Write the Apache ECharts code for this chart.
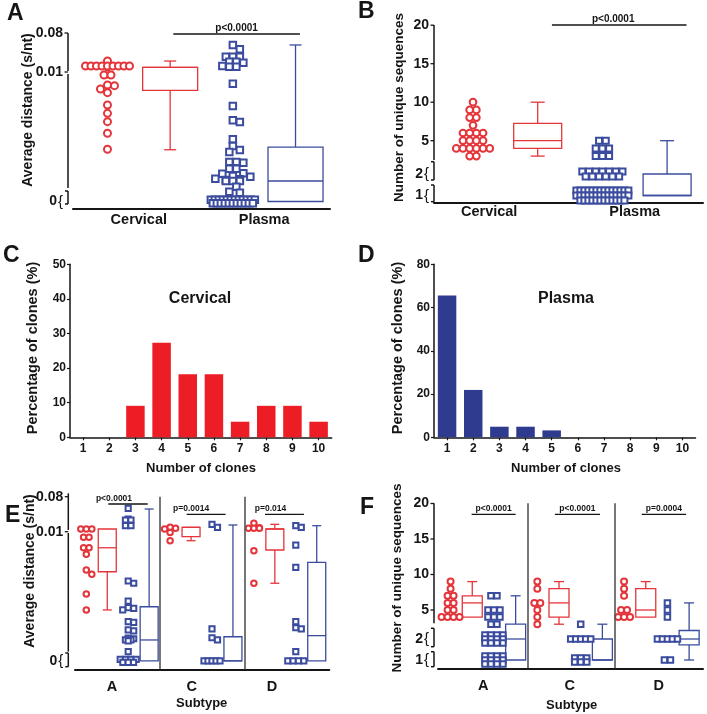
<!DOCTYPE html>
<html><head><meta charset="utf-8">
<script src="https://cdn.jsdelivr.net/npm/echarts@6/dist/echarts.min.js"></script>
<style>html,body{margin:0;padding:0;background:#fff}#c{width:707px;height:714px}</style>
</head><body><div id="c"></div>
<script>
// ================= DATA =================
// Panel A: average distance (s/nt)
const aCervical = [0.0297, 0.0208, 0.0208, 0.0208, 0.0208, 0.0208, 0.0208, 0.0208, 0.0208, 0.0208,
  0.00984, 0.00976, 0.00976, 0.00894, 0.00889, 0.00862, 0.00832, 0.00732, 0.00664, 0.00596, 0.00502, 0.00372];
const aPlasma = [0.0585, 0.0507, 0.0375, 0.0375, 0.0375, 0.0285, 0.0285, 0.0267, 0.0208, 0.0195, 0.0195,
  0.00905, 0.00724, 0.00607, 0.00593, 0.00453, 0.00398, 0.00366, 0.0035, 0.00268, 0.00268, 0.00263,
  0.00217, 0.00214, 0.00214, 0.00176, 0.00173, 0.00154, 0.00149, 0.00133, 0.00128, 0.00122,
  0.00114, 0.00114, 0.00114, 0.00067, 0.00027, 0.00019,
  0, 0, 0, 0, 0, 0, 0, 0, 0, 0, 0, 0, 0, 0, 0, 0, 0, 0, 0, 0, 0, 0, 0];
const aBoxCervical = [0.00368, 0.00851, 0.0184, 0.0184, 0.0297];   // min, q1, median, q3, max
const aBoxPlasma = [0, 0, 0.00114, 0.0039, 0.0585];
const aGroups = ['Cervical', 'Plasma'];
const aYTicks = [0.08, 0.01, 0];
const aYTickText = ['0.08', '0.01', '0'];

// Panel B: number of unique sequences
const bCervical = [10, 9, 9, 8, 8, 7, 6, 6, 6, 6, 5, 5, 5, 5, 4, 4, 4, 4, 4, 4, 3, 3];
const bPlasma = [5, 5, 4, 4, 4, 3, 3, 3,
  2, 2, 2, 2, 2, 2, 2, 2, 2, 2, 2, 2, 2,
  1, 1, 1, 1, 1, 1, 1, 1, 1, 1, 1, 1, 1, 1, 1, 1, 1, 1, 1, 1,
  1, 1, 1, 1, 1, 1, 1, 1, 1, 1, 1, 1, 1, 1, 1, 1, 1, 1, 1, 1];
const bBoxCervical = [3, 4, 5, 7.26, 10];
const bBoxPlasma = [1, 1, 1, 2, 5];
const bYTicks = [20, 15, 10, 5, 2, 1];
const bYTickText = ['20', '15', '10', '5', '2', '1'];

// Panels C / D: percentage of clones
const cdCategories = ['1', '2', '3', '4', '5', '6', '7', '8', '9', '10'];
const cValues = [0, 0, 9.1, 27.3, 18.2, 18.2, 4.5, 9.1, 9.1, 4.5];
const dValues = [65.6, 21.9, 4.9, 4.9, 3.2, 0, 0, 0, 0, 0];

// Panel E: average distance by subtype
const subtypes = ['A', 'C', 'D'];
const eCervA = [0.0154, 0.0154, 0.0154, 0.00955, 0.00955, 0.0087, 0.0087, 0.00817, 0.0069, 0.00655, 0.00496, 0.00367];
const eCervC = [0.0188, 0.0168, 0.0154, 0.00994, 0.00927];
const eCervD = [0.0268, 0.018, 0.0168, 0.0168, 0.0168, 0.00846, 0.00583];
const ePlasA = [0.0568, 0.0354, 0.0334, 0.0334, 0.022, 0.022, 0.00601, 0.00583, 0.00439, 0.00385, 0.0038, 0.00367,
  0.00272, 0.00267, 0.00205, 0.00197, 0.0014, 0.00134, 0.00124, 0.00124, 0.00116, 0.00029, 0, 0, 0, 0, 0, 0, 0];
const ePlasC = [0.0248, 0.0188, 0.00213, 0.00142, 0.00124, 0, 0, 0, 0, 0];
const ePlasD = [0.022, 0.0188, 0.00892, 0.00712, 0.00272, 0.00223, 0.00213, 0.00029, 0, 0, 0, 0];
const eBoxCerv = [[0.00367, 0.00676, 0.0087, 0.0154, 0.0154], [0.00927, 0.0096, 0.0188, 0.0188, 0.0188], [0.00583, 0.00852, 0.0154, 0.0154, 0.0248]];
const eBoxPlas = [[0, 0, 0.00124, 0.00393, 0.0554], [0, 0, 0, 0.0015, 0.0234], [0, 0, 0.00159, 0.00752, 0.022]];
const ePValues = ['p<0.0001', 'p=0.0014', 'p=0.014'];

// Panel F: unique sequences by subtype
const fCervA = [9, 8, 7, 7, 6, 6, 5, 5, 4, 4, 4, 4];
const fCervC = [9, 8, 6, 6, 5, 4, 3];
const fCervD = [9, 8, 7, 5, 5, 4, 4, 4];
const fPlasA = [7, 7, 5, 5, 5, 4, 4, 4, 3, 3, 2, 2, 2, 2, 2, 2, 2, 2, 2, 2, 2, 2, 1, 1, 1, 1, 1, 1, 1, 1, 1, 1, 1, 1];
const fPlasC = [3, 2, 2, 2, 2, 2, 1, 1, 1, 1, 1, 1];
const fPlasD = [6, 5, 4, 2, 2, 2, 2, 2, 1, 1];
const fBoxCerv = [[4, 4, 6, 7, 9], [3, 4, 6, 8, 9], [4, 4, 5, 8, 9]];
const fBoxPlas = [[1, 1, 2, 3, 7], [1, 1, 1, 2, 3], [1, 1.65, 2, 2.5, 6]];
const fPValues = ['p<0.0001', 'p<0.0001', 'p=0.0004'];
const abPValue = 'p<0.0001';

// ================= STYLE / LAYOUT =================
const FONT = "'Liberation Sans', Arial, Helvetica, sans-serif";
const RED = '#e4353b', BLUE = '#3b4c9e', BAR_RED = '#ec1d25', BAR_BLUE = '#2e3b8f', INK = '#151515';

// broken-axis scales (axis units = px above the x axis line)
const fA = v => v === 0 ? 7.5 : (v <= 0.01 ? 14 + v * 12300 : 137 + (v - 0.01) * 557.14);
const fE = v => v === 0 ? 8.5 : (v <= 0.01 ? 14 + v * 12360 : 137.6 + (v - 0.01) * 500);
const fB = v => v >= 2.5 ? 62 + (v - 5) * 7.7 : (v >= 1.5 ? 28.7 + (v - 2) * 20 : 7.2 + (v - 1) * 20);
const fF = v => v >= 2.6 ? 58.3 + (v - 5) * 7.1 : (v >= 1.5 ? 29.3 + (v - 2) * 17 : 8.3 + (v - 1) * 17);

const PA = {grid: {left: 73, top: 33, width: 257, height: 176}, xmin: -0.55, xmax: 3.55, ymax: 176, yoff: 5, f: fA,
  d: 7, W: 44, dense: 0.65, rowStep: 3.4, maxRows: 2, boxW: 55, capW: 12, symC: 7, symS: 6.5,
  yTicks: aYTicks, yText: aYTickText, brace: [0, 0, 1], ySize: 14,
  ySegs: [[138, 176, 0], [21, 135, 0], [5, 18, 1]],
  xAt: [0.5, 2.5], xText: aGroups, xSize: 14.5, xMargin: 3};
const PB = {grid: {left: 434, top: 25, width: 269, height: 177.7}, xmin: -0.603, xmax: 3.555, ymax: 177.7, yoff: 0, f: fB,
  d: 6.7, W: 52, dense: 0.65, rowStep: 5, maxRows: 3, boxW: 48, capW: 14, symC: 6.7, symS: 6,
  yTicks: bYTicks, yText: bYTickText, brace: [0, 0, 0, 0, 1, 1], ySize: 14,
  ySegs: [[42.7, 177.7, 0], [22.7, 41, 1], [1, 17.7, 1]],
  xAt: [0.25, 2.5], xText: aGroups, xSize: 14.5, xMargin: 2};
const PE = {grid: {left: 75, top: 496.7, width: 254.3, height: 172.6}, xmin: -0.54, xmax: 11.6, ymax: 172.6, yoff: 6.7, f: fE,
  d: 5.5, W: 16, dense: 0.65, rowStep: 3, maxRows: 2, boxW: 18, capW: 9, symC: 5.5, symS: 5.2,
  yTicks: aYTicks, yText: aYTickText, brace: [0, 0, 1], ySize: 14,
  ySegs: [[139.3, 176, 0], [17.6, 136.3, 0], [2.6, 16.3, 1]],
  xAt: [1.23, 5.03, 8.86], xText: subtypes, xSize: 14.5, xMargin: 10, sep: [3.5, 7.55]};
const PF = {grid: {left: 438, top: 503.3, width: 265, height: 165}, xmin: -0.58, xmax: 11.64, ymax: 165, yoff: 4, f: fF,
  d: 6, W: 20, dense: 0.8, rowStep: 4, maxRows: 3, boxW: 20, capW: 10, symC: 6, symS: 5.5,
  yTicks: bYTicks, yText: bYTickText, brace: [0, 0, 0, 0, 1, 1], ySize: 14,
  ySegs: [[45, 165, 0], [21.6, 40, 1], [1.6, 16.6, 1]],
  xAt: [1.51, 5.5, 9.6], xText: subtypes, xSize: 14.5, xMargin: 10, sep: [3.55, 7.58]};

// ================= HELPERS =================
function nearest(arr, v) { let k = 0; arr.forEach((a, i) => { if (Math.abs(a - v) < Math.abs(arr[k] - v)) k = i; }); return k; }

// deterministic column-scatter (beeswarm) layout computed from the values
function swarm(vals, cx, P) {
  const pxu = P.grid.width / (P.xmax - P.xmin);
  const cnt = new Map();
  vals.forEach(v => cnt.set(v, (cnt.get(v) || 0) + 1));
  const keys = [...cnt.keys()].sort((a, b) => b - a);
  const placed = [];
  const lim = (P.d * 0.95) ** 2;
  const collide = (dx, y) => placed.some(p => (p[0] - dx) ** 2 + (p[1] - y) ** 2 < lim);
  keys.forEach(v => {
    const n = cnt.get(v), y = P.f(v);
    if (n === 1) {
      let off = 0, found = false;
      for (let k = 0; k < 60; k++) {
        const o = (k % 2 === 1 ? 1 : -1) * Math.ceil(k / 2) * P.d / 2;
        if (Math.abs(o) > P.W / 2 + 0.01) break;
        if (!collide(o, y)) { off = o; found = true; break; }
      }
      if (!found) off = 0;
      placed.push([off, y]);
    } else {
      const cap = Math.floor(P.W / (P.d * P.dense)) + 1;
      const R = Math.min(P.maxRows, Math.ceil(n / cap));
      const m = Math.ceil(n / R);
      const sp = m > 1 ? Math.min(P.d, P.W / (m - 1)) : 0;
      for (let r = 0; r < R; r++) {
        const c = r < R - 1 ? m : n - m * (R - 1);
        const yo = ((R - 1) / 2 - r) * P.rowStep;
        for (let i = 0; i < c; i++) placed.push([(i - (c - 1) / 2) * sp, y + yo]);
      }
    }
  });
  return placed.map(p => [cx + p[0] / pxu, p[1]]);
}

const grids = [], xAxes = [], yAxes = [], series = [];

function scatter(i, pts, circle, P, extra) {
  return Object.assign({type: 'scatter', xAxisIndex: i, yAxisIndex: i, data: pts, silent: true, z: 4,
    symbol: circle ? 'emptyCircle' : 'emptyRect', symbolSize: circle ? P.symC : P.symS,
    itemStyle: {color: circle ? RED : BLUE, borderColor: circle ? RED : BLUE, borderWidth: 1.1, opacity: 1}}, extra || {});
}

function boxSeries(i, P, items, color) {
  return {type: 'custom', xAxisIndex: i, yAxisIndex: i, silent: true, z: 3,
    data: items.map(([x, b]) => [x].concat(b.map(P.f))),
    renderItem: (params, api) => {
      const x = api.value(0);
      const c = k => api.coord([x, api.value(k)]);
      const p1 = c(1), cx = p1[0], yMin = p1[1];
      const yQ1 = c(2)[1], yMd = c(3)[1], yQ3 = c(4)[1], yMax = c(5)[1];
      const hw = P.boxW / 2, cw = P.capW / 2;
      const st = {stroke: color, lineWidth: 1.3, fill: 'none'};
      const L = (x1, y1, x2, y2) => ({type: 'line', shape: {x1, y1, x2, y2}, style: st});
      const ch = [{type: 'rect', shape: {x: cx - hw, y: yQ3, width: P.boxW, height: yQ1 - yQ3}, style: st},
        L(cx - hw, yMd, cx + hw, yMd)];
      if (yMax < yQ3 - 0.5) ch.push(L(cx, yQ3, cx, yMax), L(cx - cw, yMax, cx + cw, yMax));
      if (yMin > yQ1 + 0.5) ch.push(L(cx, yQ1, cx, yMin), L(cx - cw, yMin, cx + cw, yMin));
      return {type: 'group', children: ch};
    }};
}

// broken y-axis line: kind 0 = segment, 1 = bracket segment, 2 = tick mark
function axisDecor(i, P, items) {
  return {type: 'custom', xAxisIndex: i, yAxisIndex: i, silent: true, z: 5, data: items,
    renderItem: (params, api) => {
      const p0 = api.coord([P.xmin, api.value(0)]), p1 = api.coord([P.xmin, api.value(1)]);
      const x = p0[0] - P.yoff, kind = api.value(2);
      const st = {stroke: INK, lineWidth: 1.5};
      if (kind === 2) return {type: 'line', shape: {x1: x - 3.5, y1: p0[1], x2: x, y2: p0[1]}, style: {stroke: INK, lineWidth: 1.3}};
      const ch = [{type: 'line', shape: {x1: x, y1: p0[1], x2: x, y2: p1[1]}, style: st}];
      if (kind === 1) {
        ch.push({type: 'line', shape: {x1: x - 3, y1: p0[1], x2: x, y2: p0[1]}, style: st},
                {type: 'line', shape: {x1: x - 3, y1: p1[1], x2: x, y2: p1[1]}, style: st});
      }
      return {type: 'group', children: ch};
    }};
}

function annotations(i, list, size) {
  return {type: 'custom', xAxisIndex: i, yAxisIndex: i, silent: true, z: 6,
    data: list.map((a, k) => [a.x1, a.x2, a.u, a.dx, k]),
    renderItem: (params, api) => {
      const p1 = api.coord([api.value(0), api.value(2)]), p2 = api.coord([api.value(1), api.value(2)]);
      const a = list[api.value(4)];
      return {type: 'group', children: [
        {type: 'line', shape: {x1: p1[0], y1: p1[1], x2: p2[0], y2: p2[1]}, style: {stroke: INK, lineWidth: 1.3}},
        {type: 'text', x: (p1[0] + p2[0]) / 2 + api.value(3), y: p1[1] - 1,
          style: {text: a.text, fill: INK, font: 'bold ' + size + 'px ' + FONT, textAlign: 'center', textVerticalAlign: 'bottom'}}
      ]};
    }};
}

function dotPanel(P) {
  const i = grids.length;
  grids.push(Object.assign({containLabel: false}, P.grid));
  xAxes.push({gridIndex: i, type: 'value', min: P.xmin, max: P.xmax,
    axisLine: {show: true, onZero: false, lineStyle: {color: INK, width: 2}}, axisTick: {show: false}, splitLine: {show: false},
    axisLabel: {customValues: P.xAt, margin: P.xMargin, color: INK, fontFamily: FONT, fontWeight: 'bold', fontSize: P.xSize,
      formatter: v => P.xText[nearest(P.xAt, v)]}});
  const tickU = P.yTicks.map(P.f);
  yAxes.push({gridIndex: i, type: 'value', min: 0, max: P.ymax, offset: P.yoff,
    axisLine: {show: false}, splitLine: {show: false}, axisTick: {show: false},
    axisLabel: {customValues: tickU, margin: 5, color: INK, fontFamily: FONT, fontWeight: 'bold', fontSize: P.ySize,
      formatter: v => { const k = nearest(tickU, v); return P.brace[k] ? '{n|' + P.yText[k] + '}{k|{}' : P.yText[k]; },
      rich: {n: {fontFamily: FONT, fontWeight: 'bold', fontSize: P.ySize, color: INK},
             k: {fontFamily: FONT, fontWeight: 'normal', fontSize: P.ySize + 1, color: INK, padding: [0, 0, 0, 1]}}}});
  const ticks = tickU.filter((u, k) => !P.brace[k]).map(u => [u, u, 2]);
  series.push(axisDecor(i, P, P.ySegs.concat(ticks)));
  return i;
}

function barPanel(grid, vals, color, ymax, step) {
  const i = grids.length;
  grids.push(Object.assign({containLabel: false}, grid));
  xAxes.push({gridIndex: i, type: 'category', data: cdCategories, boundaryGap: true,
    axisLine: {show: true, lineStyle: {color: INK, width: 1.5}},
    axisTick: {show: true, alignWithLabel: true, length: 3, lineStyle: {color: INK, width: 1.2}},
    axisLabel: {margin: 5, color: INK, fontFamily: FONT, fontWeight: 'bold', fontSize: 12}, splitLine: {show: false}});
  yAxes.push({gridIndex: i, type: 'value', min: 0, max: ymax, interval: step,
    axisLine: {show: true, lineStyle: {color: INK, width: 1.5}},
    axisTick: {show: true, length: 3, lineStyle: {color: INK, width: 1.2}},
    axisLabel: {margin: 4, color: INK, fontFamily: FONT, fontWeight: 'bold', fontSize: 12}, splitLine: {show: false}});
  series.push({type: 'bar', xAxisIndex: i, yAxisIndex: i, data: vals, barWidth: 18.5, silent: true,
    itemStyle: {color: color}});
  return i;
}

// ---------- Panel A ----------
let g = dotPanel(PA);
series.push(scatter(g, swarm(aCervical, 0, PA), true, PA));
series.push(scatter(g, swarm(aPlasma, 2, PA), false, PA));
series.push(boxSeries(g, PA, [[1, aBoxCervical]], RED));
series.push(boxSeries(g, PA, [[3, aBoxPlasma]], BLUE));
series.push(annotations(g, [{x1: 1.05, x2: 3.07, u: 175, dx: 0, text: abPValue}], 10));

// ---------- Panel B ----------
g = dotPanel(PB);
series.push(scatter(g, swarm(bCervical, 0, PB), true, PB));
series.push(scatter(g, swarm(bPlasma, 2, PB), false, PB));
series.push(boxSeries(g, PB, [[1, bBoxCervical]], RED));
series.push(boxSeries(g, PB, [[3, bBoxPlasma]], BLUE));
series.push(annotations(g, [{x1: 1.22, x2: 3.3, u: 177.7, dx: -6, text: abPValue}], 10));

// ---------- Panels C, D ----------
barPanel({left: 70, top: 264.3, width: 261.7, height: 173}, cValues, BAR_RED, 50, 10);
barPanel({left: 434, top: 264.3, width: 261.5, height: 173}, dValues, BAR_BLUE, 80, 20);

// ---------- Panel E ----------
g = dotPanel(PE);
[eCervA, eCervC, eCervD].forEach((d, k) => series.push(scatter(g, swarm(d, 4 * k, PE), true, PE)));
[ePlasA, ePlasC, ePlasD].forEach((d, k) => series.push(scatter(g, swarm(d, 4 * k + 2, PE), false, PE,
  k === 0 ? {markLine: {silent: true, symbol: 'none', label: {show: false}, animation: false,
    lineStyle: {color: '#555', width: 1.6, type: 'solid'}, data: PE.sep.map(s => ({xAxis: s}))}} : {})));
series.push(boxSeries(g, PE, eBoxCerv.map((b, k) => [4 * k + 1, b]), RED));
series.push(boxSeries(g, PE, eBoxPlas.map((b, k) => [4 * k + 3, b]), BLUE));
series.push(annotations(g, [
  {x1: 1.05, x2: 2.93, u: 165.3, dx: -14, text: ePValues[0]},
  {x1: 4.79, x2: 6.65, u: 155, dx: -15, text: ePValues[1]},
  {x1: 8.53, x2: 10.39, u: 155, dx: -14, text: ePValues[2]}], 8.5));

// ---------- Panel F ----------
g = dotPanel(PF);
[fCervA, fCervC, fCervD].forEach((d, k) => series.push(scatter(g, swarm(d, 4 * k, PF), true, PF)));
[fPlasA, fPlasC, fPlasD].forEach((d, k) => series.push(scatter(g, swarm(d, 4 * k + 2, PF), false, PF,
  k === 0 ? {markLine: {silent: true, symbol: 'none', label: {show: false}, animation: false,
    lineStyle: {color: '#555', width: 1.6, type: 'solid'}, data: PF.sep.map(s => ({xAxis: s}))}} : {})));
series.push(boxSeries(g, PF, fBoxCerv.map((b, k) => [4 * k + 1, b]), RED));
series.push(boxSeries(g, PF, fBoxPlas.map((b, k) => [4 * k + 3, b]), BLUE));
series.push(annotations(g, [
  {x1: 0.97, x2: 3.0, u: 154, dx: 0, text: fPValues[0]},
  {x1: 4.81, x2: 6.89, u: 154, dx: 0, text: fPValues[1]},
  {x1: 8.81, x2: 10.86, u: 154, dx: 0, text: fPValues[2]}], 8.5));

// ---------- texts ----------
function txt(t, x, y, size, opt) {
  opt = opt || {};
  return {type: 'text', x: x, y: y, rotation: opt.rot || 0, silent: true,
    style: {text: t, fill: INK, font: 'bold ' + size + 'px ' + FONT, textAlign: opt.align || 'center', textVerticalAlign: 'middle'}};
}
const R90 = Math.PI / 2;
const graphic = [
  txt('A', 7, 13.5, 23, {align: 'left'}), txt('B', 358, 11.5, 23, {align: 'left'}),
  txt('C', 3, 256, 23, {align: 'left'}), txt('D', 358, 256, 23, {align: 'left'}),
  txt('E', 5, 516, 23, {align: 'left'}), txt('F', 360, 508, 23, {align: 'left'}),
  txt('Average distance (s/nt)', 28, 110, 14, {rot: R90}),
  txt('Number of unique sequences', 399, 107.5, 13.5, {rot: R90}),
  txt('Percentage of clones (%)', 33, 348, 14.5, {rot: R90}),
  txt('Percentage of clones (%)', 397.5, 348, 14.5, {rot: R90}),
  txt('Average distance (s/nt)', 30, 571, 14, {rot: R90}),
  txt('Number of unique sequences', 397.5, 578, 13.5, {rot: R90}),
  txt('Cervical', 200, 299, 16), txt('Plasma', 566, 299, 16),
  txt('Number of clones', 201, 468, 13), txt('Number of clones', 566, 468, 13),
  txt('Subtype', 201.7, 703.3, 13), txt('Subtype', 571.7, 705, 13)
];

const chart = echarts.init(document.getElementById('c'), null, {renderer: 'canvas', width: 707, height: 714});
chart.setOption({animation: false, backgroundColor: '#fff', grid: grids, xAxis: xAxes, yAxis: yAxes, series: series, graphic: graphic});
</script></body></html>
